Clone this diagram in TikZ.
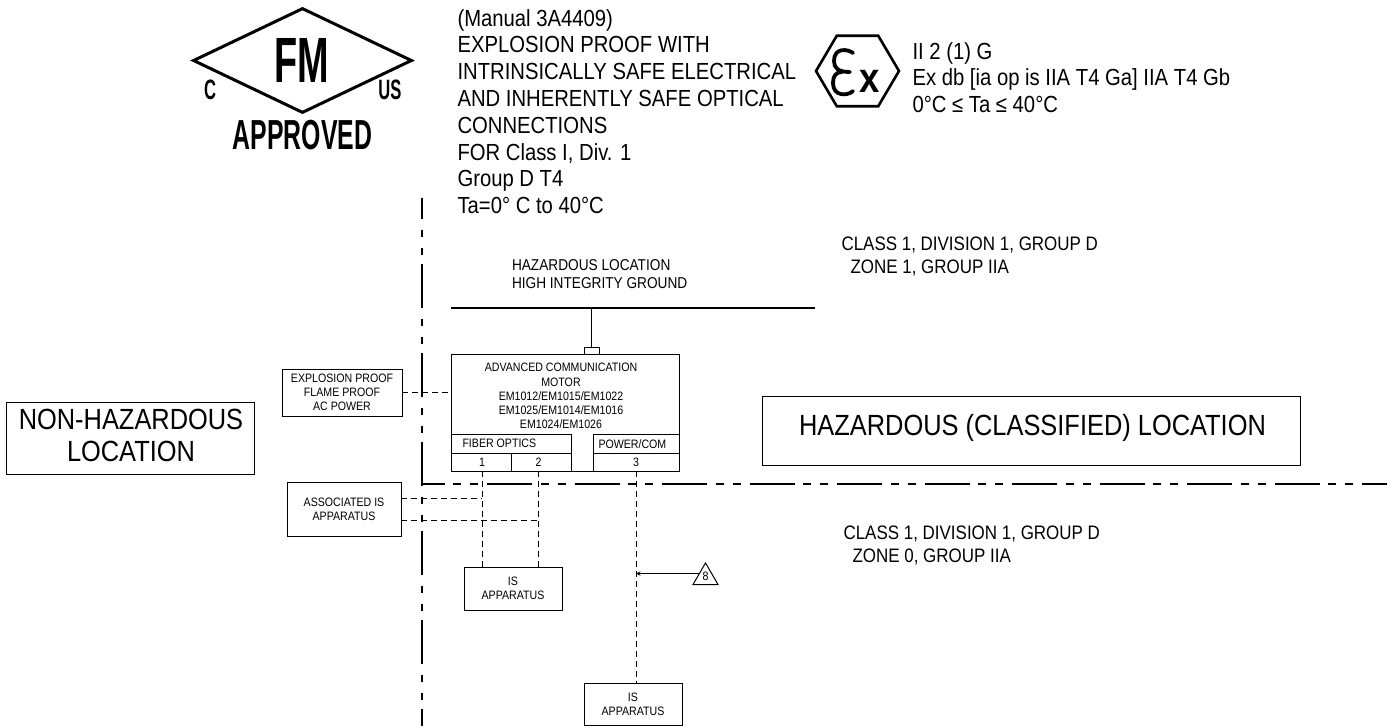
\documentclass[tikz,border=0pt]{standalone}
\usepackage{fontspec}
\setmainfont{Liberation Sans}[FakeStretch=0.87]
\usepackage{tikz}
\usetikzlibrary{shapes.geometric}
\usetikzlibrary{arrows.meta}
\newcommand{\fsize}[2]{\fontsize{#1}{#2}\selectfont}
\tikzstyle{sheet}=[
  >=stealth,x=1pt,y=-1pt,line width=1pt
]
\tikzstyle{box}=[
  draw,rectangle,inner sep=0pt,outer sep=0pt,align=center,font=\fsize{12.2}{14.2}
]
\tikzstyle{bigname}=[
  inner sep=0pt,align=center,font=\fsize{29.2}{32}
]
\tikzstyle{note}=[
  inner sep=0pt,anchor=west,align=left,font=\fsize{23.3}{26.8}
]
\tikzstyle{zone}=[
  inner sep=0pt,anchor=west,align=left,font=\fsize{19.5}{23}
]
\tikzstyle{small}=[
  inner sep=0pt,align=center,font=\fsize{12.2}{14.2}
]
\tikzstyle{brand}=[
  inner sep=0pt,xscale=0.68
]
\tikzstyle{conn}=[
  dash pattern=on 6pt off 4pt
]
\tikzstyle{border}=[
  line width=2.4pt,dash pattern=on 44pt off 10.5pt on 7.5pt off 10.5pt on 7.5pt off 9pt,dash phase=23pt
]
\tikzstyle{floor}=[
  line width=1.2pt,dash pattern=on 45pt off 8.5pt on 8pt off 9pt on 8pt off 9pt,dash phase=22.5pt
]

\begin{document}
\begin{tikzpicture}[sheet]
    \useasboundingbox (0,0) rectangle (1397,726);
    % approval mark
    \node [draw,diamond,aspect=2.08,line width=3pt,inner sep=0pt,minimum width=219pt,minimum height=105pt] (mark) at (302.5,60.5) {};
    \node [brand,font=\bfseries\fsize{64}{64}] (markfm) at (302,60) {FM};
    \node [brand,font=\bfseries\fsize{28}{28}] (markc) at (210,90) {C};
    \node [brand,font=\bfseries\fsize{28}{28}] (markus) at (390,90) {US};
    \node [brand,font=\bfseries\fsize{42}{42}] (markok) at (302.5,135) {APPROVED};
    % notes on top
    \node [note] (fmnote) at (457,111.5) {(Manual 3A4409)\\EXPLOSION PROOF WITH\\INTRINSICALLY SAFE ELECTRICAL\\AND INHERENTLY SAFE OPTICAL\\CONNECTIONS\\FOR Class I, Div. 1\\Group D T4\\Ta=0° C to 40°C};
    \node [note] (exnote) at (912,77.5) {II 2 (1) G\\Ex db [ia op is IIA T4 Ga] IIA T4 Gb\\0°C ≤ Ta ≤ 40°C};
    % ex mark
    \node [draw,regular polygon,regular polygon sides=6,line width=2.6pt,inner sep=0pt,minimum size=83pt,yscale=0.98] (exmark) at (857.5,71) {};
    \draw [line width=3.8pt,line cap=round] (853,53) .. controls (848,49) and (834,47) .. (834,61)
          .. controls (834,68) and (838,72) .. (850,72);
    \draw [line width=3.8pt,line cap=round] (842,72) .. controls (836,72) and (833,76) .. (833,83)
          .. controls (833,97) and (848,96) .. (853,91);
    \node [inner sep=0pt,font=\bfseries\fsize{42}{42}] (exx) at (869.5,81) {x};
    % zones
    \node [zone] (zoneup) at (841,256.5) {CLASS 1, DIVISION 1, GROUP D\\\hspace*{9pt}ZONE 1, GROUP IIA};
    \node [zone] (zonedown) at (843,545.5) {CLASS 1, DIVISION 1, GROUP D\\\hspace*{9pt}ZONE 0, GROUP IIA};
    \node [inner sep=0pt,anchor=west,align=left,font=\fsize{15.7}{18}] (groundname) at (511.5,274) {HAZARDOUS LOCATION\\HIGH INTEGRITY GROUND};
    % borders
    \coordinate (bordertop) at (422,198);
    \coordinate (borderend) at (422,726);
    \coordinate (floorend) at (1387,484);
    \draw [border] (bordertop) -- (borderend);
    \draw [floor] (bordertop |- floorend) -- (floorend);
    % big boxes
    \node [box,minimum width=248pt,minimum height=72pt] (safe) at (130,438) {};
    \node [bigname] (safename) at (131,435) {NON-HAZARDOUS\\LOCATION};
    \node [box,minimum width=538pt,minimum height=69pt] (danger) at (1031,430.5) {};
    \node [bigname] (dangername) at (1032.5,428) {HAZARDOUS (CLASSIFIED) LOCATION};
    % ground bar
    \coordinate (barleft) at (451,308);
    \coordinate (barright) at (815,308);
    \draw [line width=2.4pt] (barleft) -- (barright);
    % motor
    \node [box,minimum width=228pt,minimum height=117pt] (motor) at (565,412.5) {};
    \node [small] (motorname) at (561,396) {ADVANCED COMMUNICATION\\MOTOR\\EM1012/EM1015/EM1022\\EM1025/EM1014/EM1016\\EM1024/EM1026};
    \node [box,minimum width=15pt,minimum height=7pt] (tab) at (591.5,350.5) {};
    \draw (tab.north) -- (tab.north |- barleft);
    \node [box,minimum width=120pt,minimum height=19pt] (fiber) at (511,443.5) {};
    \node [box,minimum width=86pt,minimum height=19pt] (power) at (636,443.5) {};
    \node [box,minimum width=60pt,minimum height=18pt] (cellone) at (481,462) {};
    \node [box,minimum width=60pt,minimum height=18pt] (celltwo) at (541,462) {};
    \node [box,minimum width=86pt,minimum height=18pt] (cellthree) at (636,462) {};
    \node [small,anchor=west] (fibername) at (462,443.5) {FIBER OPTICS};
    \node [small,anchor=west] (powername) at (598,444) {POWER/COM};
    \node [small] (portone) at (482,462) {1};
    \node [small] (porttwo) at (538.5,462) {2};
    \node [small] (portthree) at (636,462) {3};
    % side boxes
    \node [box,minimum width=120pt,minimum height=47pt] (acpower) at (342,392.5) {EXPLOSION PROOF\\FLAME PROOF\\AC POWER};
    \node [box,minimum width=114pt,minimum height=54pt] (assoc) at (344,509) {ASSOCIATED IS\\APPARATUS};
    \node [box,minimum width=98pt,minimum height=43pt] (isleft) at (513,588.5) {IS\\APPARATUS};
    \node [box,minimum width=98pt,minimum height=42pt] (isright) at (633,704) {IS\\APPARATUS};
    \node [draw,regular polygon,regular polygon sides=3,inner sep=0pt,minimum size=29pt] (mark8) at (705.5,577.4) {};
    \node [small] (num8) at (705.5,576.5) {8};
    % wires
    \coordinate (feedone) at (401,498);
    \coordinate (feedtwo) at (401,520);
    \draw [conn] (acpower.east) -- (motor.west |- acpower.east);
    \draw [conn] (feedone) -- (portone |- feedone);
    \draw [conn] (feedtwo) -- (porttwo |- feedtwo);
    \draw [conn] (portone |- motor.south) -- (portone |- isleft.north);
    \draw [conn] (porttwo |- motor.south) -- (porttwo |- isleft.north);
    \draw [conn] (portthree |- motor.south) -- (portthree |- isright.north);
    \draw [->] (mark8.side 1) -- (portthree |- mark8.side 1);
\end{tikzpicture}
\end{document}
